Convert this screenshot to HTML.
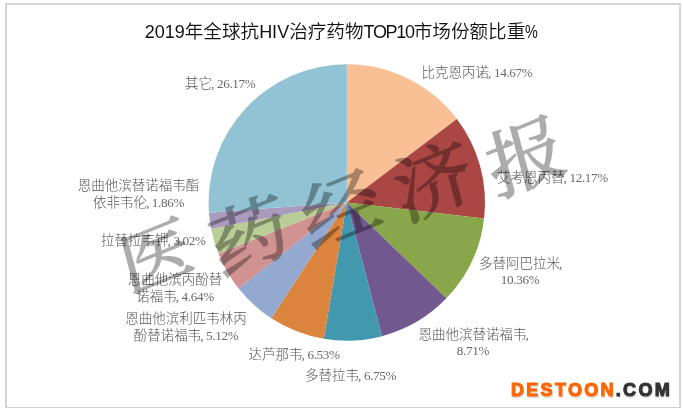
<!DOCTYPE html>
<html lang="zh"><head><meta charset="utf-8"><title>2019年全球抗HIV治疗药物TOP10市场份额比重%</title>
<style>
html,body{margin:0;padding:0;background:#fff;}
body{width:683px;height:412px;position:relative;overflow:hidden;font-family:"Liberation Sans","Noto Sans CJK SC",sans-serif;}
.frame{position:absolute;left:5px;top:3px;width:676px;height:405px;border:2px solid #d5d5d5;border-bottom:1px solid #d0d0d0;box-sizing:border-box;}
.title{position:absolute;left:0px;top:19px;width:683px;text-align:center;font-size:18.6px;line-height:26px;color:#111;white-space:nowrap;letter-spacing:0;font-weight:350;}
.title .l{font-size:18px;}.title .t{font-size:18px;letter-spacing:-1.3px;}.title .p{font-size:18px;display:inline-block;width:13px;transform:scaleX(0.8);transform-origin:0 50%;}
svg.pie{position:absolute;left:0;top:0;}
.lb{position:absolute;font-family:"Liberation Serif","Noto Sans CJK SC",sans-serif;font-size:13.5px;line-height:17px;color:#555;font-weight:300;white-space:nowrap;}.lb i{font-style:normal;font-size:13.2px;letter-spacing:-0.35px;margin-left:-1px;color:#686868;font-weight:400;}
.lb.c{text-align:center;}
.wm{position:absolute;left:0;top:0;width:600px;margin-left:41px;margin-top:158px;text-align:center;font-family:"Liberation Serif","Noto Serif CJK SC",serif;font-weight:400;font-size:80px;line-height:100px;color:#000;-webkit-text-stroke:1.6px #000;opacity:0.32;white-space:nowrap;transform-origin:50% 50%;transform:rotate(-15deg);letter-spacing:0;}
.wm span{display:inline-block;width:96px;text-align:center;transform:skewY(-7deg) scaleY(0.92);}
.wm span:nth-child(1){transform:translate(1px,0) skewY(-7deg) scale(0.92,0.86);}
.wm span:nth-child(2){transform:translateY(5px) skewY(-7deg) scaleY(0.92);}
.wm span:nth-child(3){transform:translateY(3px) skewY(-7deg) scaleY(0.92);}
.logo{position:absolute;left:511px;top:376px;font-family:"Liberation Sans",sans-serif;font-weight:700;font-size:18px;line-height:28px;letter-spacing:2.3px;color:#ff6600;white-space:nowrap;text-shadow:1px 2px 1.5px #d4d4d4;-webkit-text-stroke:1.1px #ff6600;}
.logo b{color:#333;-webkit-text-stroke:1.1px #333;}
</style></head><body>
<div class="frame"></div>
<div class="title"><span class="l">2019</span>年全球抗<span class="l">HIV</span>治疗药物<span class="t">TOP10</span>市场份额比重<span class="p">%</span></div>
<svg class="pie" width="683" height="412" viewBox="0 0 683 412">
<path d="M346.8 202.5L346.80 64.30A138.2 138.2 0 0 1 456.90 118.97Z" fill="#F9C095"/>
<path d="M346.8 202.5L456.90 118.97A138.2 138.2 0 0 1 484.08 218.44Z" fill="#AA4643"/>
<path d="M346.8 202.5L484.08 218.44A138.2 138.2 0 0 1 446.35 298.36Z" fill="#8AA64A"/>
<path d="M346.8 202.5L446.35 298.36A138.2 138.2 0 0 1 381.93 336.16Z" fill="#71588F"/>
<path d="M346.8 202.5L381.93 336.16A138.2 138.2 0 0 1 323.81 338.77Z" fill="#4198AF"/>
<path d="M346.8 202.5L323.81 338.77A138.2 138.2 0 0 1 271.36 318.29Z" fill="#DB843D"/>
<path d="M346.8 202.5L271.36 318.29A138.2 138.2 0 0 1 238.62 288.50Z" fill="#93A9CF"/>
<path d="M346.8 202.5L238.62 288.50A138.2 138.2 0 0 1 218.47 253.78Z" fill="#D19392"/>
<path d="M346.8 202.5L218.47 253.78A138.2 138.2 0 0 1 211.10 228.65Z" fill="#B9CD96"/>
<path d="M346.8 202.5L211.10 228.65A138.2 138.2 0 0 1 208.97 212.65Z" fill="#A99BBD"/>
<path d="M346.8 202.5L208.97 212.65A138.2 138.2 0 0 1 346.80 64.30Z" fill="#91C3D5"/>
</svg>
<div class="lb" style="left:421.5px;top:64px;line-height:17px">比克恩丙诺<i>, 14.67%</i></div>
<div class="lb" style="left:497px;top:169px;line-height:17px">艾考恩丙替<i>, 12.17%</i></div>
<div class="lb c" style="left:420.5px;top:256px;width:200px;line-height:16px">多替阿巴拉米<i>,</i><br><i>10.36%</i></div>
<div class="lb c" style="left:373.5px;top:327px;width:200px;line-height:16px">恩曲他滨替诺福韦<i>,</i><br><i>8.71%</i></div>
<div class="lb" style="left:305px;top:367px;line-height:17px">多替拉韦<i>, 6.75%</i></div>
<div class="lb" style="left:248.5px;top:346px;line-height:17px">达芦那韦<i>, 6.53%</i></div>
<div class="lb c" style="left:86px;top:310px;width:200px;line-height:17px">恩曲他滨利匹韦林丙<br>酚替诺福韦<i>, 5.12%</i></div>
<div class="lb c" style="left:75px;top:270.5px;width:200px;line-height:17px">恩曲他滨丙酚替<br>诺福韦<i>, 4.64%</i></div>
<div class="lb" style="left:101px;top:232px;line-height:17px">拉替拉韦钾<i>, 3.02%</i></div>
<div class="lb c" style="left:38.5px;top:177px;width:200px;line-height:17px">恩曲他滨替诺福韦酯<br>依非韦伦<i>, 1.86%</i></div>
<div class="lb" style="left:185px;top:75px;line-height:17px">其它<i>, 26.17%</i></div>
<div class="wm" aria-label="医药经济报"><span>医</span><span>药</span><span>经</span><span>济</span><span>报</span></div>
<div class="logo">DESTOON<b>.COM</b></div>
</body></html>
